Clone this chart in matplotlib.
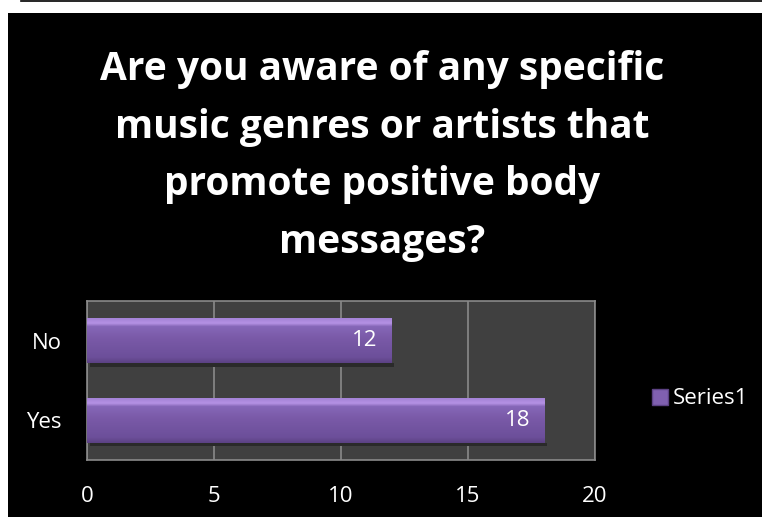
import numpy as np
import matplotlib.pyplot as plt
from matplotlib.patches import Rectangle
from matplotlib.colors import LinearSegmentedColormap

categories = ['Yes', 'No']
values = [18, 12]
series_name = 'Series1'
xticks = [0, 5, 10, 15, 20]
title = 'Are you aware of any specific\nmusic genres or artists that\npromote positive body\nmessages?'

W, H = 762, 517
fig = plt.figure(figsize=(W / 100, H / 100), dpi=100, facecolor='white')

# black chart area with thin rule along the top
fig.patches.append(Rectangle((8 / W, 0), 1, 1 - 13 / H, transform=fig.transFigure,
                             facecolor='black', edgecolor='none', zorder=-10))
fig.add_artist(plt.Line2D([21 / W, 1], [1 - 0.8 / H, 1 - 0.8 / H], transform=fig.transFigure,
                          color='black', lw=1.2))

fig.text(382 / W, 1 - 156 / H, title, ha='center', va='center', color='white',
         fontsize=28, fontweight='bold', family='Open Sans', linespacing=1.63)

ax = fig.add_axes([87 / W, 1 - 460 / H, 508 / W, 159 / H])
ax.set_facecolor('#404040')
for s in ax.spines.values():
    s.set_color('#8a8a8a')
    s.set_linewidth(1.2)

ypos = np.arange(len(categories))
bars = ax.barh(ypos, values, height=0.57, color='#7a5aa8', zorder=3, label=series_name)

# vertical shading for each bar
cmap = LinearSegmentedColormap.from_list('bevel', [
    (0.0, '#5c4284'), (0.12, '#6c4f9a'), (0.55, '#7a5aa8'),
    (0.80, '#8667b8'), (0.87, '#b592e4'), (1.0, '#a180d4')])
grad = np.linspace(0, 1, 100).reshape(-1, 1)
for b in bars:
    x0, y0 = b.get_x(), b.get_y()
    im = ax.imshow(grad, cmap=cmap, origin='lower', aspect='auto', zorder=4,
                   extent=(x0, x0 + b.get_width(), y0, y0 + b.get_height()))
    im.set_clip_path(b)
    # soft shadow under the bar
    ax.add_patch(Rectangle((x0 + 0.1, y0 - 0.04), b.get_width(), 0.04,
                           facecolor='#2a2a2a', edgecolor='none', zorder=2))

for y, v in zip(ypos, values):
    ax.text(v - 0.55, y, str(v), ha='right', va='center', color='white',
            fontsize=16, family='Open Sans', zorder=5)

ax.set_xlim(0, 20)
ax.set_ylim(-0.5, len(categories) - 0.5)
ax.set_xticks(xticks)
ax.set_yticks(ypos)
ax.set_yticklabels(categories)
ax.grid(axis='x', color='#8a8a8a', lw=1.2, zorder=1)
ax.set_axisbelow(True)
ax.tick_params(length=0, colors='white', labelsize=16)
ax.tick_params(axis='x', pad=19)
ax.tick_params(axis='y', pad=18)
for lbl in ax.get_xticklabels() + ax.get_yticklabels():
    lbl.set_family('Open Sans')

leg = fig.legend(handles=[Rectangle((0, 0), 1, 1, facecolor='#8060b0', edgecolor='#5c4284')],
                 labels=[series_name], loc='center left', bbox_to_anchor=(632 / W, 1 - 399 / H),
                 frameon=False, handlelength=0.7, handleheight=0.7, handletextpad=0.25,
                 prop={'family': 'Open Sans', 'size': 16})
for t in leg.get_texts():
    t.set_color('white')

fig.savefig('out.png', dpi=100, facecolor='white')
